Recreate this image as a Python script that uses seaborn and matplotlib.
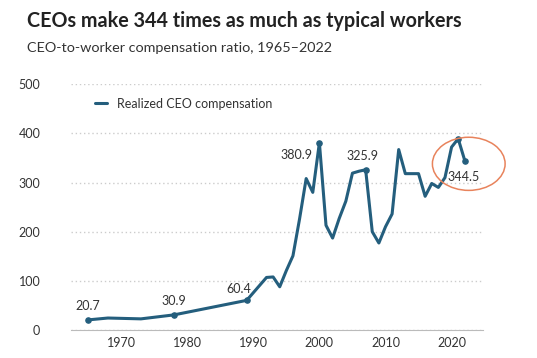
import numpy as np
import pandas as pd
import seaborn as sns
import matplotlib.pyplot as plt
from matplotlib.patches import Ellipse

years = [1965, 1968, 1973, 1978, 1989, 1992, 1993, 1994, 1995, 1996, 1997, 1998,
         1999, 2000, 2001, 2002, 2003, 2004, 2005, 2006, 2007, 2008, 2009, 2010,
         2011, 2012, 2013, 2014, 2015, 2016, 2017, 2018, 2019, 2020, 2021, 2022]
ratio = [20.7, 24.5, 22.8, 30.9, 60.4, 107.0, 108.0, 88.0, 121.0, 151.0, 226.0, 308.0,
         280.0, 380.9, 213.0, 187.0, 227.0, 262.0, 319.0, 323.0, 325.9, 200.0, 177.0, 210.0,
         236.0, 367.0, 318.0, 318.0, 318.0, 272.0, 298.0, 290.0, 310.0, 372.0, 389.0, 344.5]

label_years = [1965, 1978, 1989, 2000, 2007, 2022]
label_text = ["20.7", "30.9", "60.4", "380.9", "325.9", "344.5"]

df = pd.DataFrame({"year": years, "ratio": ratio})

sns.set_style("white")
plt.rcParams['font.family'] = ['Lato', 'DejaVu Sans']

line_col = "#245e7d"
fig = plt.figure(figsize=(5.37, 3.58), dpi=100)
ax = fig.add_axes([0.132, 0.078, 0.768, 0.687])

sns.lineplot(data=df, x="year", y="ratio", ax=ax, color=line_col, linewidth=2.2,
             label="Realized CEO compensation")

pts = df[df["year"].isin(label_years + [2021])]
ax.scatter(pts["year"], pts["ratio"], s=14, color=line_col, zorder=3)

offsets = {1965: (0, 10, "center"), 1978: (0, 10, "center"), 1989: (-6, 8, "center"),
           2000: (-5, -9, "right"), 2007: (-2, 10, "center"), 2022: (-1, -12, "center")}
for yr, txt in zip(label_years, label_text):
    v = df.loc[df["year"] == yr, "ratio"].iloc[0]
    dx, dy, ha = offsets[yr]
    ax.annotate(txt, (yr, v), xytext=(dx, dy), textcoords="offset points",
                ha=ha, va="center", fontsize=9, color="#333333")

# hand-drawn style circle around the latest values
ax.add_patch(Ellipse((2022.6, 338), 11.0, 108, fill=False, clip_on=False,
                     edgecolor="#e8835c", linewidth=1.1, zorder=4))

ax.set_xlim(1962.4, 2024.8)
ax.set_ylim(0, 500)
ax.set_xticks([1970, 1980, 1990, 2000, 2010, 2020])
ax.set_yticks([0, 100, 200, 300, 400, 500])
ax.set_xlabel("")
ax.set_ylabel("")
ax.grid(axis="y", linestyle=(0, (1, 2)), color="#cccccc", linewidth=1)
ax.grid(axis="x", visible=False)
for s in ["top", "right", "left"]:
    ax.spines[s].set_visible(False)
ax.spines["bottom"].set_color("#bbbbbb")
ax.tick_params(axis="both", labelsize=9, colors="#333333", length=0)
ax.tick_params(axis="y", pad=22)
ax.tick_params(axis="x", pad=5)

ax.legend(loc="upper left", bbox_to_anchor=(0.03, 0.99), frameon=False, fontsize=9,
          handlelength=1.0, labelcolor="#333333")

fig.text(0.05, 0.925, "CEOs make 344 times as much as typical workers",
         fontsize=14.2, fontweight="bold", color="#222222")
fig.text(0.05, 0.855, "CEO-to-worker compensation ratio, 1965\u20132022",
         fontsize=10.4, color="#333333")

fig.savefig("out.png", dpi=100)
